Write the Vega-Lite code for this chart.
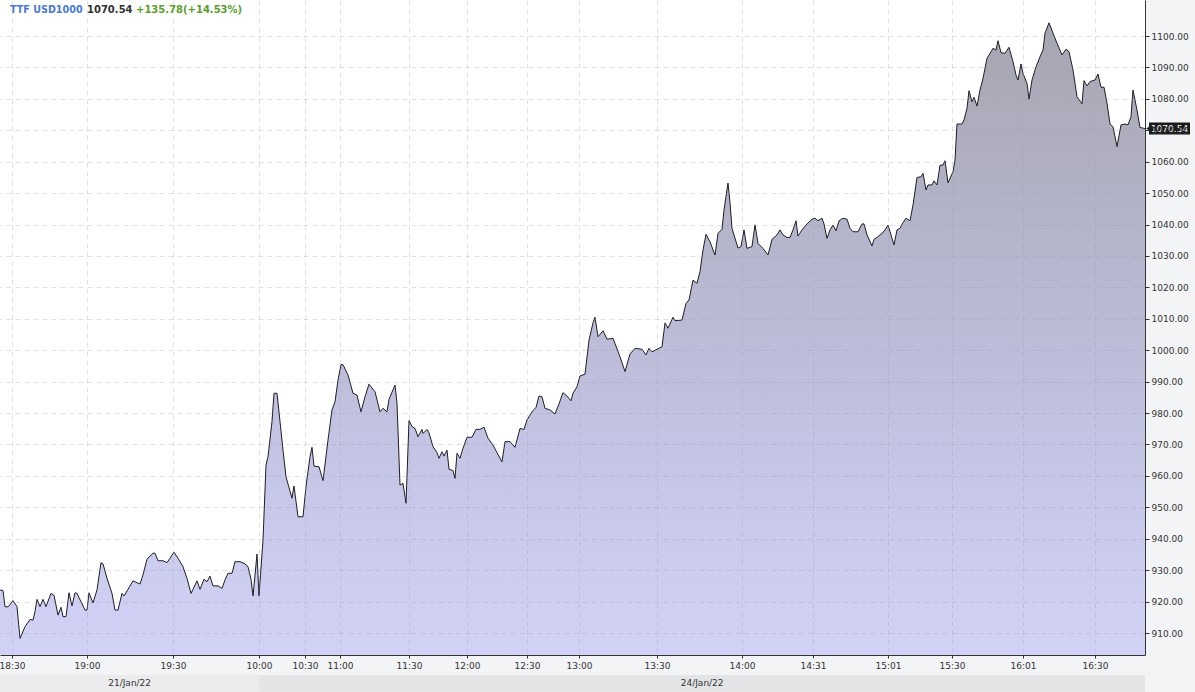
{
  "$schema": "https://vega.github.io/schema/vega-lite/v6.json",
  "width": 1145,
  "height": 655,
  "autosize": {"type": "none"},
  "padding": {"left": 0, "top": 0, "right": 50, "bottom": 37},
  "background": "#f3f4f6",
  "config": {"view": {"fill": "#ffffff", "stroke": null}, "font": "DejaVu Sans"},
  "datasets": {
    "prices": [
      {"i":0,"price":923.7},{"i":3,"price":923.5},{"i":5,"price":918.4},{"i":8,"price":918.3},{"i":13,"price":920.3},{"i":17,"price":918.4},{"i":20,"price":908.3},{"i":25,"price":912.0},{"i":30,"price":914.3},{"i":33,"price":914.1},{"i":35,"price":916.8},{"i":37,"price":920.7},{"i":40,"price":918.4},{"i":43,"price":920.7},{"i":46,"price":918.4},{"i":51,"price":922.6},{"i":54,"price":922.0},{"i":58,"price":915.7},{"i":61,"price":918.2},{"i":63,"price":915.2},{"i":66,"price":915.2},{"i":69,"price":922.8},{"i":72,"price":918.6},{"i":75,"price":922.8},{"i":77,"price":922.6},{"i":85,"price":917.3},{"i":87,"price":917.3},{"i":89,"price":922.8},{"i":93,"price":919.6},{"i":97,"price":923.7},{"i":101,"price":932.4},{"i":103,"price":932.0},{"i":107,"price":927.4},{"i":112,"price":922.6},{"i":115,"price":917.3},{"i":118,"price":917.3},{"i":122,"price":922.6},{"i":124,"price":921.8},{"i":128,"price":923.9},{"i":133,"price":926.6},{"i":137,"price":926.0},{"i":140,"price":925.6},{"i":143,"price":928.5},{"i":147,"price":933.5},{"i":153,"price":935.4},{"i":155,"price":935.4},{"i":158,"price":933.0},{"i":163,"price":933.0},{"i":167,"price":932.4},{"i":170,"price":933.8},{"i":174,"price":935.7},{"i":178,"price":933.8},{"i":183,"price":931.1},{"i":187,"price":927.4},{"i":191,"price":922.6},{"i":193,"price":923.9},{"i":197,"price":926.6},{"i":200,"price":923.9},{"i":204,"price":927.1},{"i":207,"price":926.3},{"i":210,"price":928.1},{"i":213,"price":925.0},{"i":218,"price":925.0},{"i":222,"price":924.2},{"i":225,"price":926.9},{"i":228,"price":929.0},{"i":232,"price":929.0},{"i":235,"price":932.7},{"i":240,"price":932.7},{"i":245,"price":932.0},{"i":248,"price":931.1},{"i":251,"price":927.1},{"i":253,"price":921.8},{"i":257,"price":935.1},{"i":259,"price":921.8},{"i":263,"price":939.6},{"i":266,"price":963.5},{"i":268,"price":966.1},{"i":272,"price":977.3},{"i":274,"price":986.3},{"i":277,"price":986.3},{"i":280,"price":977.3},{"i":283,"price":968.2},{"i":286,"price":959.7},{"i":292,"price":952.9},{"i":294,"price":956.8},{"i":298,"price":947.0},{"i":303,"price":947.0},{"i":306,"price":956.6},{"i":310,"price":966.1},{"i":312,"price":969.1},{"i":314,"price":963.1},{"i":319,"price":962.9},{"i":323,"price":958.5},{"i":328,"price":971.4},{"i":332,"price":981.0},{"i":335,"price":983.6},{"i":338,"price":990.5},{"i":341,"price":995.4},{"i":343,"price":995.4},{"i":348,"price":992.1},{"i":353,"price":986.3},{"i":357,"price":985.7},{"i":361,"price":980.4},{"i":365,"price":985.2},{"i":369,"price":989.2},{"i":375,"price":986.8},{"i":380,"price":980.4},{"i":383,"price":981.5},{"i":387,"price":980.4},{"i":389,"price":984.4},{"i":395,"price":988.9},{"i":397,"price":983.1},{"i":400,"price":957.1},{"i":403,"price":957.6},{"i":406,"price":951.3},{"i":409,"price":977.6},{"i":412,"price":975.7},{"i":415,"price":975.1},{"i":418,"price":972.5},{"i":422,"price":974.8},{"i":423,"price":973.5},{"i":427,"price":974.8},{"i":429,"price":973.7},{"i":433,"price":969.3},{"i":437,"price":967.4},{"i":439,"price":965.6},{"i":442,"price":967.7},{"i":444,"price":966.3},{"i":447,"price":968.2},{"i":449,"price":962.1},{"i":453,"price":961.7},{"i":455,"price":959.2},{"i":457,"price":967.2},{"i":460,"price":965.6},{"i":463,"price":968.8},{"i":467,"price":972.3},{"i":472,"price":972.3},{"i":476,"price":974.8},{"i":480,"price":974.8},{"i":484,"price":975.5},{"i":488,"price":972.0},{"i":493,"price":969.8},{"i":497,"price":967.4},{"i":502,"price":964.5},{"i":505,"price":970.9},{"i":510,"price":970.9},{"i":515,"price":969.1},{"i":520,"price":975.1},{"i":524,"price":974.8},{"i":527,"price":977.8},{"i":532,"price":980.4},{"i":536,"price":981.8},{"i":539,"price":985.4},{"i":542,"price":985.2},{"i":545,"price":981.5},{"i":550,"price":981.0},{"i":555,"price":979.7},{"i":559,"price":982.9},{"i":563,"price":986.5},{"i":567,"price":985.4},{"i":571,"price":983.9},{"i":573,"price":986.3},{"i":577,"price":988.4},{"i":580,"price":991.8},{"i":585,"price":992.4},{"i":589,"price":1003.2},{"i":593,"price":1008.7},{"i":595,"price":1010.5},{"i":598,"price":1004.3},{"i":603,"price":1006.2},{"i":607,"price":1003.5},{"i":613,"price":1003.8},{"i":620,"price":997.9},{"i":625,"price":993.2},{"i":630,"price":998.8},{"i":635,"price":1000.6},{"i":642,"price":1000.3},{"i":646,"price":998.5},{"i":649,"price":1000.6},{"i":652,"price":999.5},{"i":657,"price":1000.3},{"i":662,"price":1001.1},{"i":665,"price":1008.7},{"i":668,"price":1007.0},{"i":673,"price":1010.5},{"i":675,"price":1009.4},{"i":682,"price":1009.6},{"i":686,"price":1014.9},{"i":689,"price":1016.0},{"i":693,"price":1022.3},{"i":697,"price":1021.3},{"i":700,"price":1025.0},{"i":703,"price":1031.9},{"i":706,"price":1036.9},{"i":710,"price":1034.5},{"i":715,"price":1030.3},{"i":718,"price":1037.2},{"i":722,"price":1038.5},{"i":724,"price":1044.6},{"i":726,"price":1049.0},{"i":728,"price":1053.2},{"i":730,"price":1047.0},{"i":732,"price":1038.8},{"i":738,"price":1032.5},{"i":741,"price":1033.0},{"i":744,"price":1038.3},{"i":747,"price":1032.4},{"i":752,"price":1033.0},{"i":755,"price":1039.9},{"i":758,"price":1034.0},{"i":763,"price":1032.4},{"i":768,"price":1030.3},{"i":772,"price":1035.3},{"i":777,"price":1036.7},{"i":780,"price":1038.3},{"i":783,"price":1036.7},{"i":787,"price":1035.9},{"i":790,"price":1035.9},{"i":793,"price":1038.3},{"i":796,"price":1041.2},{"i":798,"price":1036.3},{"i":802,"price":1038.3},{"i":807,"price":1040.2},{"i":812,"price":1041.7},{"i":815,"price":1042.0},{"i":818,"price":1041.2},{"i":822,"price":1042.0},{"i":824,"price":1040.2},{"i":827,"price":1035.6},{"i":830,"price":1038.3},{"i":833,"price":1039.8},{"i":836,"price":1038.0},{"i":839,"price":1041.2},{"i":843,"price":1042.0},{"i":847,"price":1041.7},{"i":850,"price":1038.8},{"i":853,"price":1037.7},{"i":858,"price":1037.7},{"i":862,"price":1040.2},{"i":864,"price":1040.2},{"i":867,"price":1036.7},{"i":872,"price":1033.2},{"i":874,"price":1035.3},{"i":877,"price":1035.9},{"i":882,"price":1037.2},{"i":885,"price":1038.3},{"i":888,"price":1039.8},{"i":891,"price":1036.7},{"i":894,"price":1033.5},{"i":897,"price":1038.3},{"i":900,"price":1038.8},{"i":903,"price":1040.6},{"i":906,"price":1042.0},{"i":910,"price":1041.2},{"i":913,"price":1046.2},{"i":917,"price":1055.0},{"i":921,"price":1055.2},{"i":923,"price":1056.3},{"i":926,"price":1051.0},{"i":928,"price":1052.6},{"i":932,"price":1052.6},{"i":934,"price":1053.9},{"i":937,"price":1052.6},{"i":940,"price":1058.9},{"i":943,"price":1058.9},{"i":945,"price":1060.3},{"i":948,"price":1053.3},{"i":953,"price":1056.8},{"i":955,"price":1060.5},{"i":957,"price":1072.0},{"i":962,"price":1072.0},{"i":964,"price":1073.3},{"i":967,"price":1077.0},{"i":969,"price":1082.6},{"i":972,"price":1079.1},{"i":974,"price":1080.5},{"i":977,"price":1077.7},{"i":980,"price":1082.8},{"i":983,"price":1086.5},{"i":987,"price":1092.9},{"i":991,"price":1095.0},{"i":993,"price":1096.1},{"i":996,"price":1095.5},{"i":998,"price":1098.5},{"i":1001,"price":1094.7},{"i":1005,"price":1094.5},{"i":1009,"price":1096.4},{"i":1013,"price":1091.8},{"i":1016,"price":1087.6},{"i":1018,"price":1086.0},{"i":1021,"price":1091.1},{"i":1023,"price":1088.1},{"i":1027,"price":1084.9},{"i":1029,"price":1079.9},{"i":1032,"price":1086.0},{"i":1036,"price":1090.2},{"i":1040,"price":1093.4},{"i":1043,"price":1095.5},{"i":1045,"price":1100.9},{"i":1049,"price":1104.2},{"i":1053,"price":1100.9},{"i":1057,"price":1097.7},{"i":1062,"price":1094.0},{"i":1066,"price":1095.8},{"i":1069,"price":1095.0},{"i":1073,"price":1089.2},{"i":1077,"price":1080.7},{"i":1082,"price":1078.4},{"i":1084,"price":1085.8},{"i":1087,"price":1084.1},{"i":1090,"price":1085.5},{"i":1095,"price":1086.0},{"i":1098,"price":1087.9},{"i":1101,"price":1083.7},{"i":1104,"price":1083.7},{"i":1107,"price":1078.6},{"i":1110,"price":1072.0},{"i":1113,"price":1071.1},{"i":1117,"price":1064.8},{"i":1121,"price":1071.7},{"i":1125,"price":1072.0},{"i":1128,"price":1071.7},{"i":1131,"price":1074.3},{"i":1133,"price":1082.8},{"i":1137,"price":1076.4},{"i":1140,"price":1070.9},{"i":1145,"price":1070.54}
    ],
    "sessions": [
      {"date": "21/Jan/22", "start": 0, "end": 259.3},
      {"date": "24/Jan/22", "start": 259.3, "end": 1145}
    ],
    "last": [{"price": 1070.54}]
  },
  "layer": [
    {
      "data": {"name": "prices"},
      "mark": {
        "type": "area",
        "opacity": 1,
        "color": {
          "gradient": "linear", "x1": 0, "y1": 0, "x2": 0, "y2": 1,
          "stops": [
            {"offset": 0, "color": "#a6a6b0"},
            {"offset": 0.35, "color": "#b5b5cc"},
            {"offset": 0.7, "color": "#c5c5e6"},
            {"offset": 1, "color": "#d2d2f7"}
          ]
        },
        "line": {"color": "#1e1e28", "strokeWidth": 1}
      },
      "encoding": {
        "x": {
          "field": "i", "type": "quantitative", "title": null,
          "scale": {"domain": [0, 1145], "nice": false, "zero": false},
          "axis": {
            "orient": "bottom", "title": null, "zindex": 1,
            "values": [12, 87, 173, 259, 305, 340, 409, 467, 527, 579, 657, 742, 813, 888, 952, 1023, 1095],
            "tickCount": 40,
            "labelExpr": "{'12':'18:30','87':'19:00','173':'19:30','259':'10:00','305':'10:30','340':'11:00','409':'11:30','467':'12:00','527':'12:30','579':'13:00','657':'13:30','742':'14:00','813':'14:31','888':'15:01','952':'15:30','1023':'16:01','1095':'16:30'}['' + datum.value]",
            "labelFont": "DejaVu Sans", "labelFontSize": 9, "labelColor": "#333333",
            "labelPadding": 3, "labelFlush": false, "labelOverlap": false,
            "tickSize": 3, "tickColor": "#333333", "domainColor": "#333333",
            "grid": true, "gridColor": "#9a9aa8", "gridOpacity": 0.3, "gridDash": [5, 4]
          }
        },
        "y": {
          "field": "price", "type": "quantitative", "title": null,
          "scale": {"domain": [903, 1111.46], "nice": false, "zero": false},
          "axis": {
            "orient": "right", "title": null, "zindex": 1,
            "values": [910, 920, 930, 940, 950, 960, 970, 980, 990, 1000, 1010, 1020, 1030, 1040, 1050, 1060, 1070, 1080, 1090, 1100],
            "tickCount": 30,
            "format": ".2f",
            "labelFont": "DejaVu Sans", "labelFontSize": 9, "labelColor": "#333333",
            "labelPadding": 2, "labelOverlap": false,
            "tickSize": 4, "tickColor": "#333333", "domainColor": "#333333",
            "grid": true, "gridColor": "#9a9aa8", "gridOpacity": 0.3, "gridDash": [5, 4]
          }
        },
        "y2": {"datum": 903}
      }
    },
    {
      "data": {"name": "sessions"},
      "mark": {"type": "rect"},
      "encoding": {
        "x": {"field": "start", "type": "quantitative", "title": null},
        "x2": {"field": "end"},
        "y": {"datum": 896.63, "type": "quantitative", "title": null},
        "y2": {"datum": 891.3},
        "fill": {
          "field": "date", "type": "nominal", "legend": null,
          "scale": {"domain": ["21/Jan/22", "24/Jan/22"], "range": ["#ebebed", "#e3e4e6"]}
        }
      }
    },
    {
      "data": {"name": "sessions"},
      "transform": [{"calculate": "(datum.start + datum.end) / 2", "as": "mid"}],
      "mark": {"type": "text", "font": "DejaVu Sans", "fontSize": 9, "color": "#333333", "baseline": "middle", "align": "center"},
      "encoding": {
        "x": {"field": "mid", "type": "quantitative", "title": null},
        "y": {"datum": 894.0, "type": "quantitative", "title": null},
        "text": {"field": "date"}
      }
    },
    {
      "data": {"values": [{"label": "TTF USD1000"}]},
      "mark": {"type": "text", "font": "DejaVu Sans", "fontSize": 9.6, "fontWeight": "bold", "color": "#4a78d4", "align": "left", "baseline": "middle"},
      "encoding": {
        "x": {"datum": 10, "type": "quantitative", "title": null},
        "y": {"datum": 1108.4, "type": "quantitative", "title": null},
        "text": {"field": "label"}
      }
    },
    {
      "data": {"values": [{"label": "1070.54"}]},
      "mark": {"type": "text", "font": "DejaVu Sans", "fontSize": 10, "fontWeight": "bold", "color": "#333333", "align": "left", "baseline": "middle"},
      "encoding": {
        "x": {"datum": 87, "type": "quantitative", "title": null},
        "y": {"datum": 1108.4, "type": "quantitative", "title": null},
        "text": {"field": "label"}
      }
    },
    {
      "data": {"values": [{"label": "+135.78(+14.53%)"}]},
      "mark": {"type": "text", "font": "DejaVu Sans", "fontSize": 10, "fontWeight": "bold", "color": "#5a9e2f", "align": "left", "baseline": "middle"},
      "encoding": {
        "x": {"datum": 136, "type": "quantitative", "title": null},
        "y": {"datum": 1108.4, "type": "quantitative", "title": null},
        "text": {"field": "label"}
      }
    },
    {
      "data": {"name": "last"},
      "mark": {"type": "rect", "width": 41, "height": 12, "color": "#1a1a1a"},
      "encoding": {
        "x": {"datum": 1169.5, "type": "quantitative", "title": null},
        "y": {"field": "price", "type": "quantitative", "title": null}
      }
    },
    {
      "data": {"name": "last"},
      "mark": {"type": "point", "shape": "triangle-left", "size": 30, "filled": true, "color": "#1a1a1a", "opacity": 1},
      "encoding": {
        "x": {"datum": 1148.5, "type": "quantitative", "title": null},
        "y": {"field": "price", "type": "quantitative", "title": null}
      }
    },
    {
      "data": {"name": "last"},
      "mark": {"type": "text", "font": "DejaVu Sans", "fontSize": 9, "color": "#ffffff", "align": "center", "baseline": "middle"},
      "encoding": {
        "x": {"datum": 1169.5, "type": "quantitative", "title": null},
        "y": {"field": "price", "type": "quantitative", "title": null},
        "text": {"field": "price", "type": "quantitative", "format": ".2f"}
      }
    }
  ]
}
